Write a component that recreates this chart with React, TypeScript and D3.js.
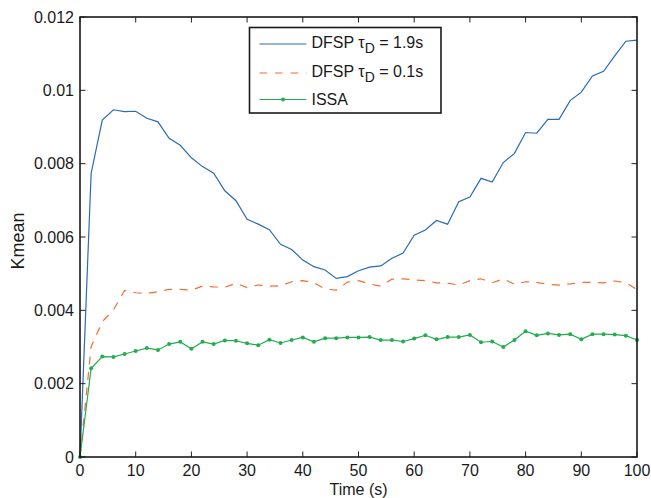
import React from "react";
import * as d3 from "d3";

const times: number[] = d3.range(0, 101, 2);

const dfsp19: number[] = [
  0, 0.00774, 0.00919, 0.00947, 0.00942, 0.00943, 0.00924, 0.00914, 0.00869, 0.0085,
  0.00816, 0.00792, 0.00774, 0.00726, 0.00699, 0.00648, 0.00635, 0.0062, 0.0058, 0.00566,
  0.00537, 0.00519, 0.0051, 0.00487, 0.00492, 0.00508, 0.00518, 0.00521, 0.00542, 0.00556,
  0.00605, 0.00619, 0.00645, 0.00635, 0.00696, 0.00709, 0.0076, 0.0075, 0.00803, 0.00828,
  0.00885, 0.00883, 0.00921, 0.00921, 0.00972, 0.00995, 0.01039, 0.01052, 0.01094, 0.01134,
  0.01137,
];

const dfsp01: number[] = [
  0, 0.00301, 0.00369, 0.00401, 0.00454, 0.00448, 0.00446, 0.00451, 0.00457, 0.00457,
  0.00455, 0.00466, 0.00464, 0.00463, 0.00474, 0.00462, 0.00469, 0.00466, 0.00467, 0.00478,
  0.00481, 0.00475, 0.00458, 0.00455, 0.00477, 0.00481, 0.00472, 0.00466, 0.00485, 0.00486,
  0.00483, 0.00481, 0.00475, 0.00474, 0.00469, 0.00481, 0.00486, 0.00475, 0.00486, 0.00471,
  0.00478, 0.00476, 0.00471, 0.00469, 0.00472, 0.00476, 0.00476, 0.00475, 0.0048, 0.00475,
  0.00457,
];

const issa: number[] = [
  0, 0.00242, 0.00274, 0.00273, 0.00281, 0.00289, 0.00297, 0.00292, 0.00308, 0.00314,
  0.00295, 0.00314, 0.00308, 0.00318, 0.00317, 0.0031, 0.00305, 0.0032, 0.00311, 0.00319,
  0.00326, 0.00314, 0.00324, 0.00324, 0.00326, 0.00326, 0.00327, 0.00319, 0.00319, 0.00315,
  0.00323, 0.00332, 0.00321, 0.00327, 0.00327, 0.00333, 0.00313, 0.00315, 0.003, 0.00319,
  0.00343, 0.00332, 0.00337, 0.00333, 0.00335, 0.00321, 0.00335, 0.00335, 0.00334, 0.00331,
  0.00319,
];

const xTicks: number[] = [0, 10, 20, 30, 40, 50, 60, 70, 80, 90, 100];
const yTicks: number[] = [0, 0.002, 0.004, 0.006, 0.008, 0.01, 0.012];
const yTickLabels: string[] = ["0", "0.002", "0.004", "0.006", "0.008", "0.01", "0.012"];

const W = 651;
const H = 498;
const L = 80;
const R = 637;
const T = 17;
const B = 457;

const BLUE = "#2a6ab8";
const ORANGE = "#f36f2f";
const GREEN = "#22ad4e";
const FONT = "'Liberation Sans', Arial, Helvetica, sans-serif";

export default function App() {
  const x = d3.scaleLinear().domain([0, 100]).range([L, R]);
  const y = d3.scaleLinear().domain([0, 0.012]).range([B, T]);
  const line = d3
    .line<number>()
    .x((_, i) => x(times[i]))
    .y((d) => y(d));

  const tickLen = 5.5;
  const legX = 249.5;
  const legY = 27.5;
  const legW = 191.5;
  const legH = 85.5;
  const rows = [44, 73, 99.5];
  const sx0 = 259.5;
  const sx1 = 306.5;
  const tx = 311.5;

  return (
    <svg width={W} height={H} style={{ position: "absolute", left: 0, top: 0, background: "#fff" }}>
      <rect x={0} y={0} width={W} height={H} fill="#fff" />
      <g fontFamily={FONT} fontSize={16} fill="#1a1a1a">
        {/* series */}
        <path d={line(dfsp19) || ""} fill="none" stroke={BLUE} strokeWidth={1.2} />
        <path d={line(dfsp01) || ""} fill="none" stroke={ORANGE} strokeWidth={1.2} strokeDasharray="8,7.5" />
        <path d={line(issa) || ""} fill="none" stroke={GREEN} strokeWidth={1.2} />
        {issa.map((v, i) => (
          <circle key={i} cx={x(times[i])} cy={y(v)} r={2} fill={GREEN} />
        ))}

        {/* ticks */}
        {xTicks.map((t) => (
          <g key={"xt" + t}>
            <line x1={x(t)} x2={x(t)} y1={B} y2={B - tickLen} stroke="#222" strokeWidth={1} />
            <line x1={x(t)} x2={x(t)} y1={T} y2={T + tickLen} stroke="#222" strokeWidth={1} />
            <text x={x(t)} y={470.5} textAnchor="middle" dominantBaseline="central">
              {t}
            </text>
          </g>
        ))}
        {yTicks.map((t, i) => (
          <g key={"yt" + i}>
            <line x1={L} x2={L + tickLen} y1={y(t)} y2={y(t)} stroke="#222" strokeWidth={1} />
            <line x1={R} x2={R - tickLen} y1={y(t)} y2={y(t)} stroke="#222" strokeWidth={1} />
            <text x={74} y={y(t)} textAnchor="end" dominantBaseline="central">
              {yTickLabels[i]}
            </text>
          </g>
        ))}

        {/* box */}
        <rect x={L} y={T} width={R - L} height={B - T} fill="none" stroke="#1a1a1a" strokeWidth={1.6} />

        {/* axis labels */}
        <text x={(L + R) / 2} y={489} textAnchor="middle" dominantBaseline="central">
          Time (s)
        </text>
        <text
          x={18}
          y={241}
          fontSize={18}
          textAnchor="middle"
          dominantBaseline="central"
          transform={`rotate(-90, 18, 241)`}
        >
          Kmean
        </text>

        {/* legend */}
        <rect x={legX} y={legY} width={legW} height={legH} fill="#fff" stroke="#1a1a1a" strokeWidth={1.6} />
        <line x1={sx0} x2={sx1} y1={rows[0]} y2={rows[0]} stroke={BLUE} strokeWidth={1.2} />
        <line x1={sx0} x2={sx1} y1={rows[1]} y2={rows[1]} stroke={ORANGE} strokeWidth={1.2} strokeDasharray="7.5,8" />
        <line x1={sx0} x2={sx1} y1={rows[2]} y2={rows[2]} stroke={GREEN} strokeWidth={1.2} />
        <circle cx={(sx0 + sx1) / 2} cy={rows[2]} r={2} fill={GREEN} />
        <g fontSize={16}>
          <text x={tx} y={rows[0] - 2} dominantBaseline="central">
            DFSP τ
            <tspan fontSize={14} dy={6}>D</tspan>
            <tspan dy={-6}> = 1.9s</tspan>
          </text>
          <text x={tx} y={rows[1] - 2} dominantBaseline="central">
            DFSP τ
            <tspan fontSize={14} dy={6}>D</tspan>
            <tspan dy={-6}> = 0.1s</tspan>
          </text>
          <text x={tx} y={rows[2]} dominantBaseline="central">
            ISSA
          </text>
        </g>
      </g>
    </svg>
  );
}
